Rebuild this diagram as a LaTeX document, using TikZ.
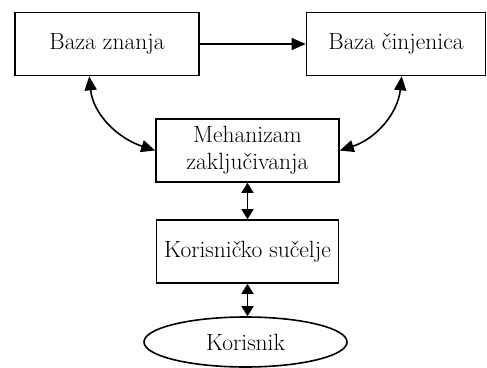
\documentclass[tikz,border=0pt]{standalone}
\usepackage{fontspec}
\usetikzlibrary{arrows.meta,shapes.geometric,calc}
\begin{document}
\begin{tikzpicture}[x=1pt,y=-1pt,
  box/.style={draw,line width=1.6pt,rectangle,minimum width=#1,minimum height=63pt,inner sep=0pt,align=center,font=\fontsize{23.5}{27}\selectfont},
  ell/.style={draw,line width=1.6pt,ellipse,minimum width=203pt,minimum height=50pt,inner sep=0pt,font=\fontsize{23.5}{27}\selectfont},
  conn/.style={line width=1.6pt,-{Triangle[length=14pt,width=12pt]}},
  dconn/.style={line width=1.6pt,{Triangle[length=14pt,width=12pt]}-{Triangle[length=14pt,width=12pt]}},
  shortd/.style={line width=1.6pt,{Triangle[length=10pt,width=12pt]}-{Triangle[length=10pt,width=12pt]}}]
\useasboundingbox (0,0) rectangle (487,367);
\node[box=184pt] (bz) at (107,44) {Baza znanja};
\node[box=179pt] (bc) at (396,44) {Baza činjenica};
\node[box=183pt] (mech) at (247.5,150.5) {Mehanizam\\zaključivanja};
\node[box=182pt] (ui) at (247.5,251.5) {Korisničko sučelje};
\node[ell] (user) at (245.5,342) {Korisnik};
\draw[conn] (bz.east) -- (bc.west);
\draw[dconn] ($(bz.south west)+(75,0)$) to[out=-84,in=162] (mech.west);
\draw[dconn] ($(bc.south west)+(96,0)$) to[out=-96,in=18] (mech.east);
\draw[shortd] (mech.south) -- (ui.north);
\draw[shortd] (ui.south) -- (ui.south |- user.north);
\end{tikzpicture}
\end{document}
